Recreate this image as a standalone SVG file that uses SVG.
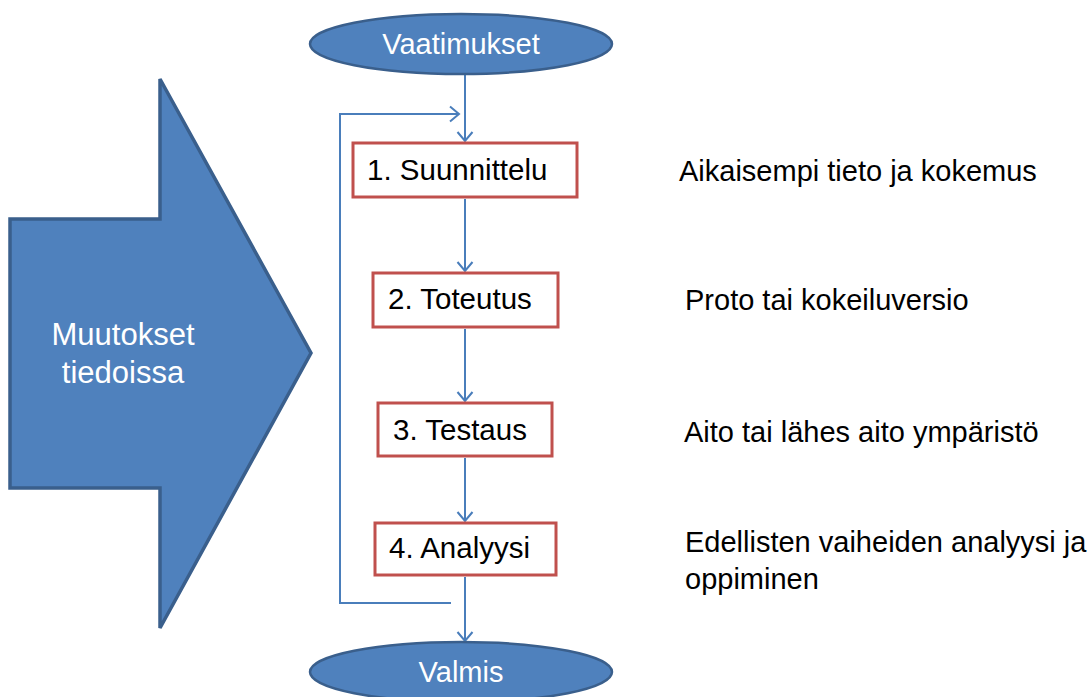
<svg xmlns="http://www.w3.org/2000/svg" width="1090" height="697" viewBox="0 0 1090 697">
  <style>
    .shape { fill: #4F81BD; stroke: #3A5F8C; stroke-width: 3; }
    .step { fill: #FFFFFF; stroke: #C0504D; stroke-width: 3; }
    .wire { fill: none; stroke: #4A7EBB; stroke-width: 2; }
    .light { font-family: "Liberation Sans", Arial, sans-serif; font-size: 29px; fill: #FFFFFF; }
    .big { font-size: 31px; }
    .dark { font-family: "Liberation Sans", Arial, sans-serif; font-size: 29.5px; fill: #000000; }
    .note { font-family: "Liberation Sans", Arial, sans-serif; font-size: 29px; fill: #000000; }
  </style>
  <defs>
    <marker id="chevron" viewBox="-12 -10 14 20" markerWidth="14" markerHeight="20" refX="0" refY="0" orient="auto" markerUnits="userSpaceOnUse">
      <path d="M-9,-7.5 L0,0 L-9,7.5" fill="none" stroke="#4A7EBB" stroke-width="2"/>
    </marker>
  </defs>

  <rect width="1090" height="697" fill="#FFFFFF"/>

  <!-- big block arrow on the left -->
  <g id="muutokset">
    <polygon class="shape" points="10,219 160,219 160,79 311,353 160,628 160,488 10,488" style="stroke-width:3.5"/>
    <text class="light big" x="123" y="345" text-anchor="middle">Muutokset</text>
    <text class="light big" x="123" y="383" text-anchor="middle">tiedoissa</text>
  </g>

  <!-- connectors -->
  <g id="connectors">
    <line class="wire" x1="465" y1="75" x2="465" y2="141" marker-end="url(#chevron)"/>
    <line class="wire" x1="465" y1="199" x2="465" y2="271" marker-end="url(#chevron)"/>
    <line class="wire" x1="465" y1="329" x2="465" y2="401" marker-end="url(#chevron)"/>
    <line class="wire" x1="465" y1="458" x2="465" y2="521" marker-end="url(#chevron)"/>
    <line class="wire" x1="465" y1="577" x2="465" y2="641" marker-end="url(#chevron)"/>
    <path class="wire" d="M451,603 H340 V114 H459" marker-end="url(#chevron)"/>
  </g>

  <g id="vaatimukset">
    <ellipse class="shape" cx="461" cy="44" rx="151" ry="30" style="stroke-width:2.5"/>
    <text class="light" x="461" y="54" text-anchor="middle">Vaatimukset</text>
  </g>

  <g id="suunnittelu">
    <rect class="step" x="353" y="143" width="224" height="54"/>
    <text class="dark" x="367" y="180">1. Suunnittelu</text>
  </g>

  <g id="toteutus">
    <rect class="step" x="373" y="273" width="185" height="54"/>
    <text class="dark" x="388" y="309">2. Toteutus</text>
  </g>

  <g id="testaus">
    <rect class="step" x="378" y="403" width="174" height="53"/>
    <text class="dark" x="393" y="440">3. Testaus</text>
  </g>

  <g id="analyysi">
    <rect class="step" x="375" y="523" width="181" height="52"/>
    <text class="dark" x="389" y="558">4. Analyysi</text>
  </g>

  <g id="valmis">
    <ellipse class="shape" cx="461" cy="672" rx="151" ry="30" style="stroke-width:2.5"/>
    <text class="light" x="461" y="682" text-anchor="middle">Valmis</text>
  </g>

  <!-- descriptions beside each step -->
  <g id="kuvaukset">
    <text class="note" x="679" y="181">Aikaisempi tieto ja kokemus</text>
    <text class="note" x="685" y="310">Proto tai kokeiluversio</text>
    <text class="note" x="684" y="442">Aito tai lähes aito ympäristö</text>
    <text class="note" x="685" y="552">Edellisten vaiheiden analyysi ja</text>
    <text class="note" x="685" y="589">oppiminen</text>
  </g>
</svg>
